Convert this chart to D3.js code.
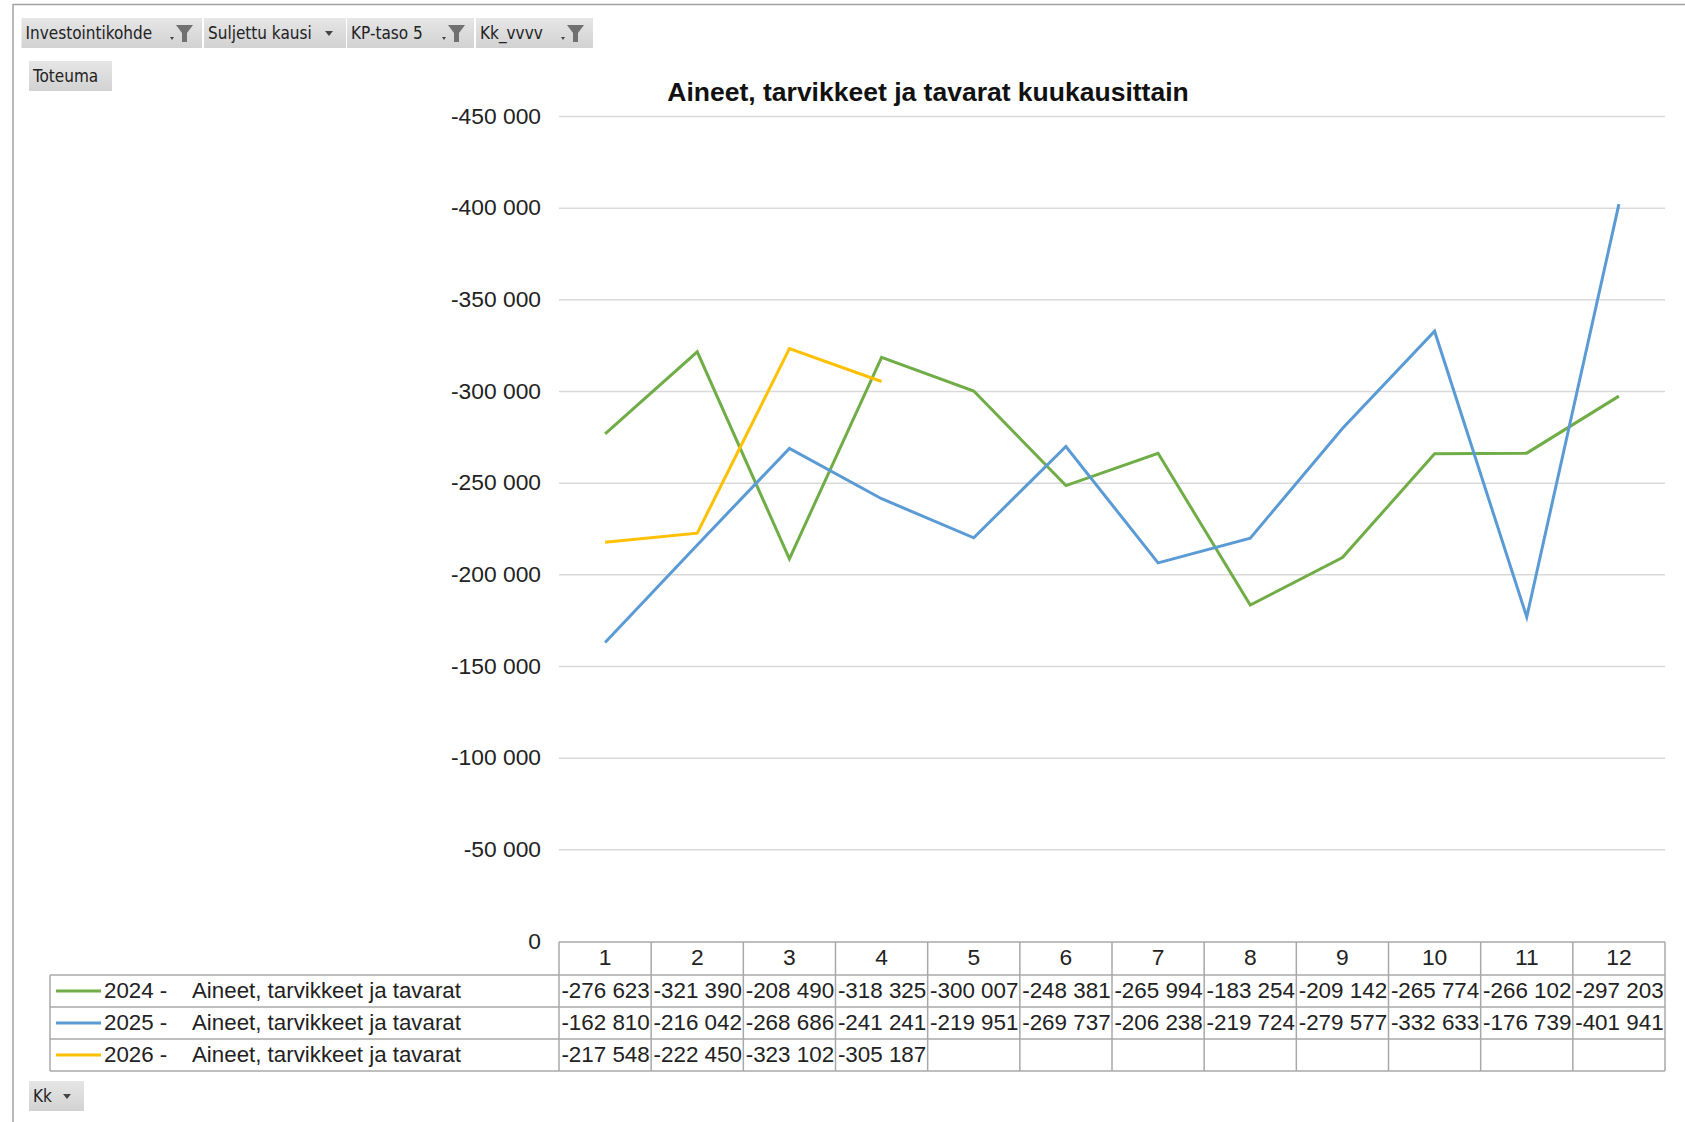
<!DOCTYPE html>
<html><head><meta charset="utf-8">
<script src="https://cdn.jsdelivr.net/npm/d3@7"></script>
<style>
html,body{margin:0;padding:0;background:#fff;}
svg{display:block;}
</style></head>
<body>
<svg id="c" width="1685" height="1122"></svg>
<script>
const months = [1,2,3,4,5,6,7,8,9,10,11,12];
const seriesNames = ["2024 -", "2025 -", "2026 -"];
const seriesLabel = "Aineet, tarvikkeet ja tavarat";
const values2024 = [-276623,-321390,-208490,-318325,-300007,-248381,-265994,-183254,-209142,-265774,-266102,-297203];
const values2025 = [-162810,-216042,-268686,-241241,-219951,-269737,-206238,-219724,-279577,-332633,-176739,-401941];
const values2026 = [-217548,-222450,-323102,-305187];
const yTicks = [0,-50000,-100000,-150000,-200000,-250000,-300000,-350000,-400000,-450000];
const colors = ["#70ad47","#5b9bd5","#ffc000"];
const filterButtons = ["Investointikohde","Suljettu kausi","KP-taso 5","Kk_vvvv"];
const title = "Aineet, tarvikkeet ja tavarat kuukausittain";

const series = [values2024, values2025, values2026];
const svg = d3.select("#c");
const FONT = "'Liberation Sans', Arial, sans-serif";
const NARROW = "'Liberation Sans Narrow','DejaVu Sans Condensed', sans-serif";

const loc = d3.formatLocale({decimal:",", thousands:" ", grouping:[3], currency:["","€"], minus:"-"});
const fmt = loc.format(",d");

// outer frame
svg.append("line").attr("x1",13).attr("x2",1685).attr("y1",4.5).attr("y2",4.5).attr("stroke","#a0a0a0").attr("stroke-width",1.5);
svg.append("line").attr("x1",13).attr("x2",13).attr("y1",4).attr("y2",1122).attr("stroke","#a0a0a0").attr("stroke-width",1.5);

// gradient for buttons
const defs = svg.append("defs");
const g = defs.append("linearGradient").attr("id","btn").attr("x1",0).attr("x2",0).attr("y1",0).attr("y2",1);
g.append("stop").attr("offset","0%").attr("stop-color","#e6e6e6");
g.append("stop").attr("offset","100%").attr("stop-color","#d2d2d2");

function button(x,y,w,h,label,icon){
  const b = svg.append("g").attr("transform",`translate(${x},${y})`);
  b.append("rect").attr("width",w).attr("height",h).attr("fill","url(#btn)");
  b.append("text").attr("x",4).attr("y",h/2+6).attr("font-family",NARROW).attr("font-size",17).attr("fill","#222").text(label);
  if(icon==="filter"){
    b.append("path").attr("d",`M${w-32},${h/2+4} h4 l-2,3 z`).attr("fill","#444");
    b.append("path").attr("d",`M${w-26},${h/2-8} h17 l-6,8 v9 h-5 v-9 z`).attr("fill","#707070");
  } else if(icon==="drop"){
    b.append("path").attr("d",`M${w-21},${h/2-2} h8 l-4,5 z`).attr("fill","#444");
  }
}
const btnX = [21.5,204,347,476];
const btnW = [180.5,142,127,117];
const btnIcon = ["filter","drop","filter","filter"];
filterButtons.forEach((t,i)=>button(btnX[i],18,btnW[i],30,t,btnIcon[i]));
button(29,61,83,30,"Toteuma",null);
button(29,1081,55,30,"Kk","drop");

// scales
const x = d3.scaleBand().domain(months).range([559,1665]);
const y = d3.scaleLinear().domain([0,-450000]).range([941,116]);

// gridlines
svg.append("g").attr("transform","translate(559,0)")
  .call(d3.axisLeft(y).tickValues(yTicks.filter(v=>v!==0)).tickSize(-1106).tickFormat(""))
  .call(a=>a.select(".domain").remove())
  .call(a=>a.selectAll("line").attr("stroke","#d9d9d9").attr("stroke-width",1.5));

// y labels
svg.append("g").attr("transform","translate(541,0)")
  .call(d3.axisLeft(y).tickValues(yTicks).tickSize(0).tickPadding(0).tickFormat(fmt))
  .call(a=>a.select(".domain").remove())
  .call(a=>a.selectAll("text").attr("font-family",FONT).attr("font-size",22.8).attr("fill","#222"));

// title
svg.append("text").attr("x",928).attr("y",101).attr("text-anchor","middle")
  .attr("font-family",FONT).attr("font-weight","bold").attr("font-size",26.5).attr("fill","#111").text(title);

// lines
const line = d3.line().x((d,i)=>x(months[i])+x.bandwidth()/2).y(d=>y(d));
series.forEach((s,i)=>{
  svg.append("path").datum(s).attr("d",line).attr("fill","none")
    .attr("stroke",colors[i]).attr("stroke-width",3).attr("stroke-linejoin","miter");
});

// data table
const rowTop = [942,975,1007,1039,1071];
const gridC = "#a8a8a8";
const tbl = svg.append("g").attr("stroke",gridC).attr("stroke-width",1.5);
tbl.append("line").attr("x1",559).attr("x2",1665).attr("y1",rowTop[0]).attr("y2",rowTop[0]);
rowTop.slice(1).forEach(r=>tbl.append("line").attr("x1",50).attr("x2",1665).attr("y1",r).attr("y2",r));
tbl.append("line").attr("x1",50).attr("x2",50).attr("y1",rowTop[1]).attr("y2",rowTop[4]);
months.forEach(m=>tbl.append("line").attr("x1",x(m)).attr("x2",x(m)).attr("y1",rowTop[0]).attr("y2",rowTop[4]));
tbl.append("line").attr("x1",1665).attr("x2",1665).attr("y1",rowTop[0]).attr("y2",rowTop[4]);

// header labels
months.forEach(m=>{
  svg.append("text").attr("x",x(m)+x.bandwidth()/2).attr("y",(rowTop[0]+rowTop[1])/2+6.5)
    .attr("text-anchor","middle").attr("font-family",FONT).attr("font-size",22.8).attr("fill","#222").text(m);
});
// rows
series.forEach((s,i)=>{
  const cy = (rowTop[i+1]+rowTop[i+2])/2;
  svg.append("line").attr("x1",56).attr("x2",101).attr("y1",cy).attr("y2",cy).attr("stroke",colors[i]).attr("stroke-width",3);
  svg.append("text").attr("x",104).attr("y",cy+6.5).attr("font-family",FONT).attr("font-size",22.3).attr("fill","#222").text(seriesNames[i]);
  svg.append("text").attr("x",192).attr("y",cy+6.5).attr("font-family",FONT).attr("font-size",22.3).attr("fill","#222").text(seriesLabel);
  s.forEach((v,j)=>{
    svg.append("text").attr("x",x(months[j])+x.bandwidth()/2+0.5).attr("y",cy+6.5).attr("text-anchor","middle")
      .attr("font-family",FONT).attr("font-size",22.4).attr("fill","#222").text(fmt(v));
  });
});
</script>
</body></html>
